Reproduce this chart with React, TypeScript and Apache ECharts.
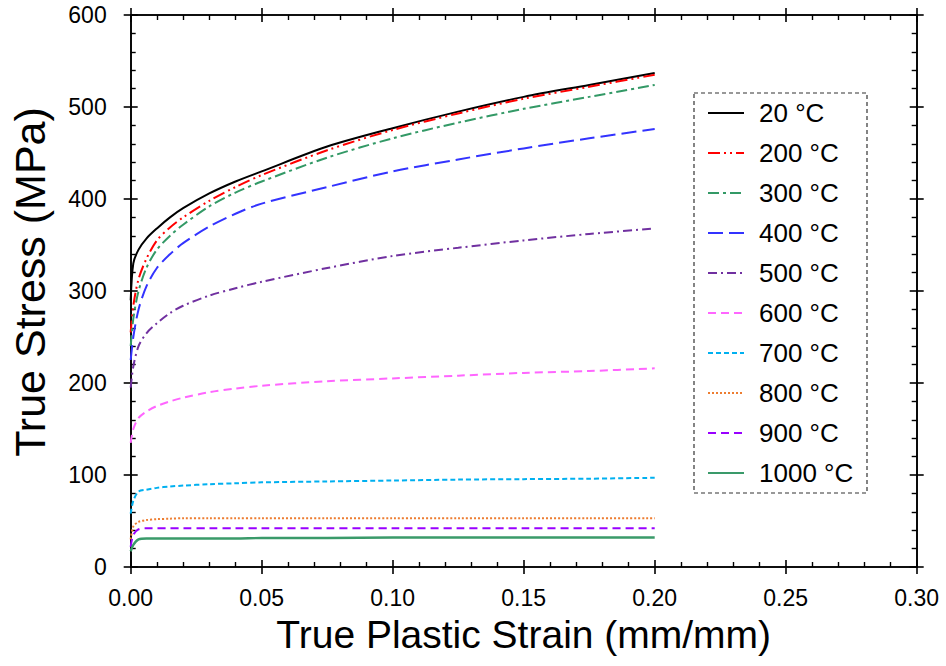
import React, { useEffect, useRef } from "react";
import * as echarts from "echarts";

const strain = [0, 0.001, 0.003, 0.006, 0.01, 0.015, 0.02, 0.03, 0.04, 0.05, 0.075, 0.1, 0.125, 0.15, 0.175, 0.2];

const stress20 = [290, 330, 345, 357, 368, 380, 390, 406, 419, 430, 457, 477, 495, 511, 524, 537];
const stress200 = [255, 284, 313, 335, 355, 369, 380, 398, 413, 426, 453, 475, 493, 509, 522, 535];
const stress300 = [240, 270, 300, 325, 345, 360, 372, 392, 407, 419, 445, 466, 483, 498, 511, 524];
const stress400 = [225, 250, 280, 305, 325, 340, 352, 370, 384, 395, 413, 430, 443, 455, 466, 476];
const stress500 = [195, 218, 240, 254, 265, 276, 284, 295, 303, 310, 325, 338, 347, 355, 362, 368];
const stress600 = [135, 150, 162, 169, 175, 180, 184, 190, 194, 197, 202, 205, 208, 211, 213, 216];
const stress700 = [58, 72, 82, 84, 86, 87.5, 88.5, 90, 91, 92, 93, 94, 95, 95.5, 96, 97];
const stress800 = [30, 44, 49, 51, 52, 52.5, 53, 53, 53, 53, 53, 53, 53, 53, 53, 53];
const stress900 = [22, 35, 41, 42, 42, 42, 42, 42, 42, 42, 42, 42, 42, 42, 42, 42];
const stress1000 = [17, 24, 30, 31, 31, 31, 31, 31, 31, 31.5, 31.5, 32, 32, 32, 32, 32];

const seriesNames = ["20 °C", "200 °C", "300 °C", "400 °C", "500 °C", "600 °C", "700 °C", "800 °C", "900 °C", "1000 °C"];
const seriesValues = [stress20, stress200, stress300, stress400, stress500, stress600, stress700, stress800, stress900, stress1000];
const seriesColors = ["#000000", "#FF0000", "#339966", "#3333FF", "#7030A0", "#FF66FF", "#00B0F0", "#ED7D31", "#9900FF", "#3A9A6A"];
const seriesDash: any[] = [
  "solid",
  [12, 4, 2, 4, 2, 4],
  [11, 4, 3, 4],
  [15, 6],
  [9, 4, 2, 4],
  [8, 5],
  [5, 3],
  [2, 2],
  [8, 5],
  "solid",
];

const xTicks = { min: 0, max: 0.3, interval: 0.05 };
const yTicks = { min: 0, max: 600, interval: 100 };

const FONT = "'Liberation Sans', Arial, sans-serif";

export default function App() {
  const ref = useRef<HTMLDivElement>(null);
  useEffect(() => {
    if (!ref.current) return;
    const chart = echarts.init(ref.current, null, { renderer: "svg" });
    const axisLine = { show: true, onZero: false, lineStyle: { color: "#000", width: 1.6 } };
    const baseX = (extra: any) => ({
      type: "value",
      min: xTicks.min,
      max: xTicks.max,
      interval: xTicks.interval,
      axisLine,
      splitLine: { show: false },
      axisLabel: { show: false },
      ...extra,
    });
    const baseY = (extra: any) => ({
      type: "value",
      min: yTicks.min,
      max: yTicks.max,
      interval: yTicks.interval,
      axisLine,
      splitLine: { show: false },
      axisLabel: { show: false },
      ...extra,
    });
    const outTick = { show: true, inside: false, length: 7, lineStyle: { color: "#000", width: 1.6 } };
    const inTick = { show: true, inside: true, length: 7, lineStyle: { color: "#000", width: 1.6 } };
    const minor = { show: true, splitNumber: 5, length: 5, lineStyle: { color: "#000", width: 1.4 } };

    chart.setOption({
      animation: false,
      backgroundColor: "#fff",
      grid: { left: 130.7, right: 29.3, top: 15, bottom: 99, containLabel: false },
      xAxis: [
        baseX({
          position: "bottom",
          axisTick: outTick,
          axisLabel: {
            show: true,
            formatter: (v: number) => v.toFixed(2),
            fontSize: 23,
            color: "#000",
            margin: 19,
            fontFamily: FONT,
          },
          name: "True Plastic Strain (mm/mm)",
          nameLocation: "middle",
          nameGap: 48,
          nameTextStyle: { fontSize: 39, color: "#000", fontFamily: FONT },
        }),
        baseX({ position: "bottom", axisTick: inTick, minorTick: minor }),
        baseX({ position: "top", axisTick: outTick }),
        baseX({ position: "top", axisTick: inTick, minorTick: minor }),
      ],
      yAxis: [
        baseY({
          position: "left",
          axisTick: outTick,
          axisLabel: {
            show: true,
            fontSize: 23,
            color: "#000",
            margin: 24,
            fontFamily: FONT,
          },
        }),
        baseY({ position: "left", axisTick: inTick, minorTick: minor }),
        baseY({ position: "right", axisTick: outTick }),
        baseY({ position: "right", axisTick: inTick, minorTick: minor }),
      ],
      legend: {
        orient: "vertical",
        left: 707,
        top: 100,
        padding: 0,
        itemWidth: 36,
        itemHeight: 14,
        itemGap: 14,
        data: seriesNames,
        itemStyle: { opacity: 0 },
        textStyle: { fontSize: 26, color: "#000", fontFamily: FONT, padding: [0, 0, 0, 10] },
      },
      graphic: [
        {
          type: "rect",
          shape: { x: 694, y: 93, width: 173, height: 400 },
          style: { fill: "none", stroke: "#333", lineWidth: 1.2, lineDash: [4, 3] },
          z: 1,
        },
        {
          type: "text",
          x: 30,
          y: 282,
          rotation: Math.PI / 2,
          style: {
            text: "True Stress (MPa)",
            fontSize: 43,
            fontFamily: FONT,
            fill: "#000",
            align: "center",
            verticalAlign: "middle",
          },
        },
      ],
      series: seriesNames.map((name, i) => ({
        name,
        type: "line",
        xAxisIndex: 0,
        yAxisIndex: 0,
        symbol: "none",
        smooth: 0.3,
        data: strain.map((x, j) => [x, seriesValues[i][j]]),
        lineStyle: { color: seriesColors[i], width: i === 9 ? 2.4 : 2, type: seriesDash[i] },
        itemStyle: { color: seriesColors[i] },
      })),
    });
    return () => chart.dispose();
  }, []);
  return <div ref={ref} style={{ position: "fixed", left: 0, top: 0, width: 946, height: 666 }} />;
}
